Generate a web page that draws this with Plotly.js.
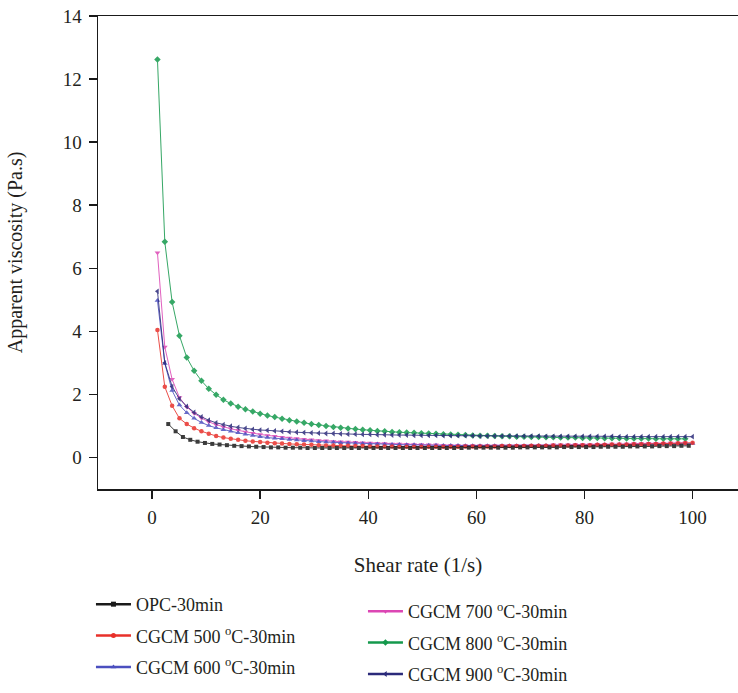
<!DOCTYPE html>
<html>
<head>
<meta charset="utf-8">
<script src="https://cdn.plot.ly/plotly-3.0.1.min.js"></script>
<style>html,body{margin:0;padding:0;background:#fff;}#chart{width:738px;height:693px;}</style>
</head>
<body>
<div id="chart"></div>
<script>
// Shear rate grid (1/s) for the CGCM series
const shear = [1.00,2.36,3.71,5.07,6.42,7.78,9.14,10.49,11.85,13.20,
  14.56,15.92,17.27,18.63,19.99,21.34,22.70,24.05,25.41,26.77,
  28.12,29.48,30.84,32.19,33.55,34.90,36.26,37.62,38.97,40.33,
  41.68,43.04,44.40,45.75,47.11,48.47,49.82,51.18,52.53,53.89,
  55.25,56.60,57.96,59.32,60.67,62.03,63.38,64.74,66.10,67.45,
  68.81,70.16,71.52,72.88,74.23,75.59,76.95,78.30,79.66,81.01,
  82.37,83.73,85.08,86.44,87.79,89.15,90.51,91.86,93.22,94.58,
  95.93,97.29,98.64,100.00];
// Shear rate grid for OPC
const shearOPC = [3.00,4.36,5.71,7.07,8.42,9.78,11.14,12.49,13.85,15.20,
  16.56,17.92,19.27,20.63,21.99,23.34,24.70,26.05,27.41,28.77,
  30.12,31.48,32.84,34.19,35.55,36.90,38.26,39.62,40.97,42.33,
  43.68,45.04,46.40,47.75,49.11,50.47,51.82,53.18,54.53,55.89,
  57.25,58.60,59.96,61.32,62.67,64.03,65.38,66.74,68.10,69.45,
  70.81,72.16,73.52,74.88,76.23,77.59,78.95,80.30,81.66,83.01,
  84.37,85.73,87.08,88.44,89.79,91.15,92.51,93.86,95.22,96.58,
  97.93,99.29];

// Apparent viscosity (Pa.s)
const opc = [1.06,0.83,0.65,0.56,0.50,0.46,0.43,0.41,0.39,0.37,
  0.36,0.35,0.34,0.33,0.32,0.32,0.31,0.31,0.31,0.30,
  0.30,0.30,0.30,0.30,0.30,0.30,0.30,0.30,0.30,0.30,
  0.30,0.30,0.30,0.30,0.30,0.30,0.30,0.30,0.30,0.30,
  0.30,0.31,0.31,0.31,0.31,0.31,0.31,0.31,0.32,0.32,
  0.32,0.32,0.32,0.32,0.33,0.33,0.33,0.33,0.33,0.34,
  0.34,0.34,0.34,0.35,0.35,0.35,0.35,0.36,0.36,0.36,
  0.37,0.37];
const cgcm500 = [4.04,2.24,1.64,1.24,1.06,0.93,0.83,0.75,0.68,0.63,
  0.59,0.56,0.53,0.51,0.49,0.47,0.45,0.44,0.43,0.42,
  0.41,0.40,0.39,0.38,0.38,0.37,0.37,0.36,0.36,0.35,
  0.35,0.35,0.35,0.34,0.34,0.34,0.34,0.34,0.34,0.34,
  0.34,0.34,0.35,0.35,0.35,0.35,0.35,0.36,0.36,0.36,
  0.36,0.37,0.37,0.37,0.38,0.38,0.38,0.39,0.39,0.39,
  0.40,0.40,0.41,0.41,0.41,0.42,0.42,0.43,0.43,0.44,
  0.44,0.45,0.46,0.47];
const cgcm600 = [4.98,2.98,2.12,1.66,1.42,1.24,1.11,1.01,0.94,0.88,
  0.83,0.78,0.74,0.70,0.66,0.63,0.61,0.59,0.57,0.55,
  0.53,0.52,0.50,0.49,0.48,0.47,0.46,0.45,0.44,0.43,
  0.43,0.42,0.41,0.41,0.40,0.40,0.39,0.39,0.39,0.38,
  0.38,0.38,0.37,0.37,0.37,0.37,0.37,0.37,0.37,0.37,
  0.37,0.37,0.38,0.38,0.38,0.38,0.39,0.39,0.39,0.39,
  0.40,0.40,0.40,0.41,0.41,0.41,0.42,0.42,0.42,0.43,
  0.43,0.43,0.44,0.44];
const cgcm700 = [6.49,3.50,2.48,1.90,1.60,1.40,1.25,1.13,1.04,0.97,
  0.91,0.86,0.81,0.77,0.73,0.70,0.67,0.64,0.62,0.60,
  0.58,0.56,0.54,0.53,0.51,0.50,0.49,0.48,0.47,0.46,
  0.45,0.44,0.43,0.43,0.42,0.41,0.41,0.40,0.40,0.39,
  0.39,0.39,0.38,0.38,0.38,0.38,0.38,0.38,0.38,0.38,
  0.39,0.39,0.39,0.39,0.40,0.40,0.40,0.41,0.41,0.41,
  0.42,0.42,0.43,0.43,0.43,0.44,0.44,0.45,0.45,0.45,
  0.46,0.46,0.47];
const cgcm800 = [12.62,6.84,4.93,3.86,3.17,2.75,2.43,2.18,1.99,1.83,
  1.71,1.61,1.53,1.46,1.39,1.33,1.28,1.23,1.18,1.14,
  1.10,1.06,1.03,1.00,0.97,0.94,0.92,0.90,0.88,0.86,
  0.84,0.83,0.81,0.80,0.79,0.78,0.77,0.76,0.75,0.74,
  0.73,0.72,0.71,0.70,0.69,0.69,0.68,0.67,0.67,0.66,
  0.66,0.65,0.65,0.64,0.64,0.63,0.63,0.63,0.62,0.62,
  0.62,0.61,0.61,0.61,0.60,0.60,0.60,0.60,0.59,0.59,
  0.59,0.59,0.59];
const cgcm900 = [5.27,3.00,2.25,1.86,1.62,1.43,1.29,1.18,1.10,1.04,
  0.99,0.95,0.92,0.89,0.87,0.86,0.84,0.83,0.81,0.80,
  0.79,0.78,0.77,0.76,0.76,0.75,0.74,0.74,0.73,0.73,
  0.72,0.72,0.71,0.71,0.71,0.70,0.70,0.70,0.70,0.69,
  0.69,0.69,0.69,0.69,0.68,0.68,0.68,0.68,0.68,0.68,
  0.68,0.68,0.68,0.67,0.67,0.67,0.67,0.67,0.67,0.67,
  0.67,0.67,0.67,0.66,0.66,0.66,0.66,0.66,0.66,0.66,
  0.66,0.66,0.66,0.66];

const names = ['OPC-30min','CGCM 500 <sup>o</sup>C-30min','CGCM 600 <sup>o</sup>C-30min',
  'CGCM 700 <sup>o</sup>C-30min','CGCM 800 <sup>o</sup>C-30min','CGCM 900 <sup>o</sup>C-30min'];
const xs = [shearOPC, shear, shear, shear, shear, shear];
const ys = [opc, cgcm500, cgcm600, cgcm700, cgcm800, cgcm900];
const colors = ['#1a1a1a','#e8302a','#4b4fbf','#dc46b4','#14994c','#2b2a7a'];
const symbols = ['square','circle','triangle-up','triangle-down','diamond','triangle-left'];
const sizes = [4,4.5,5,5,5,5];
const order = [4,3,2,5,1,0];

const traces = [];
order.forEach(i => {
  traces.push({
    type:'scatter', mode:'lines+markers', x: xs[i], y: ys[i], name: names[i],
    showlegend:false, cliponaxis:true,
    line:{color:colors[i], width:1}, opacity:0.85,
    marker:{color:colors[i], symbol:symbols[i], size:sizes[i], line:{width:0}}
  });
});
// legend entries
for (let i = 0; i < 6; i++) {
  traces.push({
    type:'scatter', mode:'lines+markers', x:[null], y:[null], name: names[i],
    legend: i < 3 ? 'legend' : 'legend2', legendgroup:'g'+i,
    line:{color:colors[i], width:2.5},
    marker:{color:colors[i], symbol:symbols[i], size:5}
  });
}

const font = {family:'"Liberation Serif", "Times New Roman", serif', color:'#231f20'};
const layout = {
  width:738, height:693,
  margin:{l:98, r:0, t:16, b:201},
  paper_bgcolor:'#fff', plot_bgcolor:'#fff',
  font:Object.assign({size:19}, font),
  xaxis:{
    range:[-10,108.4], tickvals:[0,20,40,60,80,100],
    showgrid:false, zeroline:false, showline:true, mirror:true,
    linecolor:'#1a1a1a', linewidth:1.5,
    ticks:'outside', ticklen:8, tickwidth:1.5, tickcolor:'#1a1a1a',
    ticklabelstandoff:3,
    tickfont:Object.assign({size:19}, font),
    title:{text:'Shear rate (1/s)', font:Object.assign({size:21}, font), standoff:30}
  },
  yaxis:{
    range:[-1,14], tickvals:[0,2,4,6,8,10,12,14],
    showgrid:false, zeroline:false, showline:true,
    linecolor:'#1a1a1a', linewidth:1.5,
    ticks:'outside', ticklen:8, tickwidth:1.5, tickcolor:'#1a1a1a',
    ticklabelstandoff:3,
    tickfont:Object.assign({size:19}, font),
    title:{text:'Apparent viscosity (Pa.s)', font:Object.assign({size:20}, font), standoff:34}
  },
  legend:{x:-0.011, xanchor:'left', y:-0.205, yanchor:'top', orientation:'v',
    font:Object.assign({size:18}, font), itemwidth:35, tracegroupgap:5, bgcolor:'rgba(0,0,0,0)'},
  legend2:{x:0.414, xanchor:'left', y:-0.22, yanchor:'top', orientation:'v',
    font:Object.assign({size:18}, font), itemwidth:35, tracegroupgap:5, bgcolor:'rgba(0,0,0,0)'},
  showlegend:true
};
Plotly.newPlot('chart', traces, layout, {displayModeBar:false, staticPlot:true});
</script>
</body>
</html>
